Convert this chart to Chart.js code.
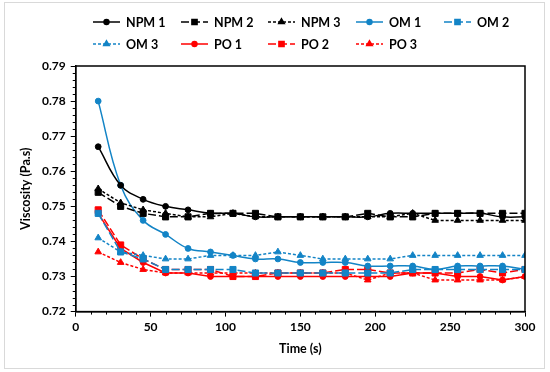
<!DOCTYPE html>
<html>
<head>
<meta charset="utf-8">
<script src="https://cdn.jsdelivr.net/npm/chart.js@4/dist/chart.umd.min.js"></script>
<style>
  html, body { margin: 0; padding: 0; background: #fff; }
  #wrap { width: 550px; height: 372px; position: relative; }
</style>
</head>
<body>
<div id="wrap"><canvas id="viscChart" width="550" height="372"></canvas></div>
<script>
// time points (s)
const times = [15, 30, 45, 60, 75, 90, 105, 120, 135, 150, 165, 180, 195, 210, 225, 240, 255, 270, 285, 300];

// viscosity (Pa.s) per sample
const npm1 = [0.767, 0.756, 0.752, 0.750, 0.749, 0.748, 0.748, 0.747, 0.747, 0.747, 0.747, 0.747, 0.747, 0.748, 0.748, 0.748, 0.748, 0.748, 0.747, 0.747];
const npm2 = [0.754, 0.750, 0.748, 0.747, 0.747, 0.748, 0.748, 0.748, 0.747, 0.747, 0.747, 0.747, 0.748, 0.747, 0.747, 0.748, 0.748, 0.748, 0.748, 0.748];
const npm3 = [0.755, 0.751, 0.749, 0.748, 0.747, 0.747, 0.748, 0.747, 0.747, 0.747, 0.747, 0.747, 0.747, 0.747, 0.748, 0.746, 0.746, 0.746, 0.746, 0.746];
const om1 = [0.780, 0.756, 0.746, 0.742, 0.738, 0.737, 0.736, 0.735, 0.735, 0.734, 0.734, 0.734, 0.733, 0.733, 0.733, 0.732, 0.733, 0.733, 0.733, 0.732];
const om2 = [0.748, 0.737, 0.735, 0.732, 0.732, 0.732, 0.732, 0.731, 0.731, 0.731, 0.731, 0.731, 0.731, 0.731, 0.732, 0.732, 0.732, 0.732, 0.732, 0.732];
const om3 = [0.741, 0.737, 0.736, 0.735, 0.735, 0.736, 0.736, 0.736, 0.737, 0.736, 0.735, 0.735, 0.735, 0.735, 0.736, 0.736, 0.736, 0.736, 0.736, 0.736];
const po1 = [0.748, 0.738, 0.734, 0.731, 0.731, 0.730, 0.730, 0.730, 0.730, 0.730, 0.730, 0.730, 0.730, 0.730, 0.731, 0.731, 0.730, 0.730, 0.729, 0.730];
const po2 = [0.749, 0.739, 0.735, 0.732, 0.732, 0.732, 0.730, 0.730, 0.731, 0.731, 0.731, 0.732, 0.732, 0.731, 0.731, 0.731, 0.731, 0.732, 0.731, 0.732];
const po3 = [0.737, 0.734, 0.732, 0.731, 0.731, 0.731, 0.731, 0.731, 0.731, 0.731, 0.731, 0.731, 0.729, 0.731, 0.731, 0.729, 0.729, 0.729, 0.729, 0.730];

const xTicks = [0, 50, 100, 150, 200, 250, 300];
const yTicks = [0.72, 0.73, 0.74, 0.75, 0.76, 0.77, 0.78, 0.79];

const BLACK = "#000000";
const BLUE = "#1384c6";
const RED = "#ff0000";

function toPoints(vals) {
  return times.map((t, i) => ({ x: t, y: vals[i] }));
}

function series(label, vals, color, style, dash, tension) {
  const r = style === "circle" ? 2.9 : (style === "rect" ? 4.3 : 3.8);
  return {
    label: label,
    data: toPoints(vals),
    borderColor: color,
    backgroundColor: color,
    borderWidth: 1.5,
    borderDash: dash,
    pointStyle: style,
    pointRadius: r,
    pointBorderWidth: 1,
    tension: tension,
    fill: false
  };
}

const datasets = [
  series("NPM 1", npm1, BLACK, "circle", [], 0.4),
  series("NPM 2", npm2, BLACK, "rect", [8, 3], 0),
  series("NPM 3", npm3, BLACK, "triangle", [3, 2], 0),
  series("OM 1", om1, BLUE, "circle", [], 0.4),
  series("OM 2", om2, BLUE, "rect", [8, 3], 0),
  series("OM 3", om3, BLUE, "triangle", [3, 2], 0),
  series("PO 1", po1, RED, "circle", [], 0),
  series("PO 2", po2, RED, "rect", [8, 3], 0),
  series("PO 3", po3, RED, "triangle", [3, 2], 0)
];

// legend laid out on a fixed grid like the original
const legendGrid = {
  id: "legendGrid",
  afterDraw(chart) {
    const ctx = chart.ctx;
    const cols = [93, 181, 268, 356, 444];
    const rows = [22, 44];
    chart.data.datasets.forEach((ds, i) => {
      const x = cols[i % 5];
      const y = rows[Math.floor(i / 5)];
      ctx.save();
      ctx.strokeStyle = ds.borderColor;
      ctx.fillStyle = ds.backgroundColor;
      ctx.lineWidth = 1.5;
      ctx.setLineDash(ds.borderDash);
      ctx.beginPath();
      ctx.moveTo(x, y);
      ctx.lineTo(x + 27, y);
      ctx.stroke();
      ctx.setLineDash([]);
      Chart.helpers.drawPoint(ctx, {
        pointStyle: ds.pointStyle,
        radius: ds.pointRadius * 0.85,
        rotation: 0,
        borderWidth: 1
      }, x + 13.5, y);
      ctx.fillStyle = "#000";
      ctx.font = "bold 12.5px Lato, 'Open Sans', sans-serif";
      ctx.textBaseline = "middle";
      ctx.textAlign = "left";
      ctx.fillText(ds.label, x + 33, y + 0.5);
      ctx.restore();
    });
  }
};

// plot-area box, minor ticks and outer frame
const frame = {
  id: "frame",
  afterDraw(chart) {
    const ctx = chart.ctx;
    const a = chart.chartArea;
    const xs = chart.scales.x;
    const ys = chart.scales.y;
    ctx.save();
    ctx.strokeStyle = "#000";
    ctx.lineWidth = 1.5;
    ctx.strokeRect(a.left, a.top, a.right - a.left, a.bottom - a.top);
    ctx.lineWidth = 1;
    ctx.beginPath();
    for (let v = 10; v < 300; v += 10) {
      if (v % 50 === 0) continue;
      const px = Math.round(xs.getPixelForValue(v)) + 0.5;
      ctx.moveTo(px, a.bottom);
      ctx.lineTo(px, a.bottom + 3);
    }
    for (let k = 1; k < 35; k++) {
      if (k % 5 === 0) continue;
      const py = Math.round(ys.getPixelForValue(0.72 + k * 0.002)) + 0.5;
      ctx.moveTo(a.left, py);
      ctx.lineTo(a.left - 3, py);
    }
    ctx.stroke();
    ctx.strokeStyle = "#d9d9d9";
    ctx.lineWidth = 1;
    ctx.strokeRect(4.5, 2.5, 540, 366);
    ctx.restore();
  }
};

Chart.defaults.font.family = "Lato, 'Open Sans', sans-serif";
Chart.defaults.color = "#000";

new Chart(document.getElementById("viscChart").getContext("2d"), {
  type: "line",
  data: { datasets: datasets },
  options: {
    responsive: false,
    animation: false,
    layout: { padding: { top: 66, left: 18, right: 25, bottom: 16 } },
    plugins: {
      legend: { display: false },
      tooltip: { enabled: false }
    },
    scales: {
      x: {
        type: "linear",
        min: 0,
        max: 300,
        afterBuildTicks: axis => { axis.ticks = xTicks.map(v => ({ value: v })); },
        ticks: { font: { size: 12, weight: "bold" }, padding: 3, maxRotation: 0 },
        grid: { display: true, drawOnChartArea: false, tickLength: 5, color: "#000", lineWidth: 1 },
        border: { display: true, color: "#000", width: 1.5 },
        title: { display: true, text: "Time (s)", font: { size: 12.5, weight: "bold" }, padding: { top: 4, bottom: 0 } }
      },
      y: {
        type: "linear",
        min: 0.72,
        max: 0.79,
        afterBuildTicks: axis => { axis.ticks = yTicks.map(v => ({ value: v })); },
        ticks: { font: { size: 12, weight: "bold" }, padding: 5, callback: v => v.toFixed(2) },
        grid: { display: true, drawOnChartArea: false, tickLength: 5, color: "#000", lineWidth: 1 },
        border: { display: true, color: "#000", width: 1.5 },
        title: { display: true, text: "Viscosity (Pa.s)", font: { size: 12.5, weight: "bold" }, padding: { top: 0, bottom: 4 } }
      }
    }
  },
  plugins: [legendGrid, frame]
});
</script>
</body>
</html>
